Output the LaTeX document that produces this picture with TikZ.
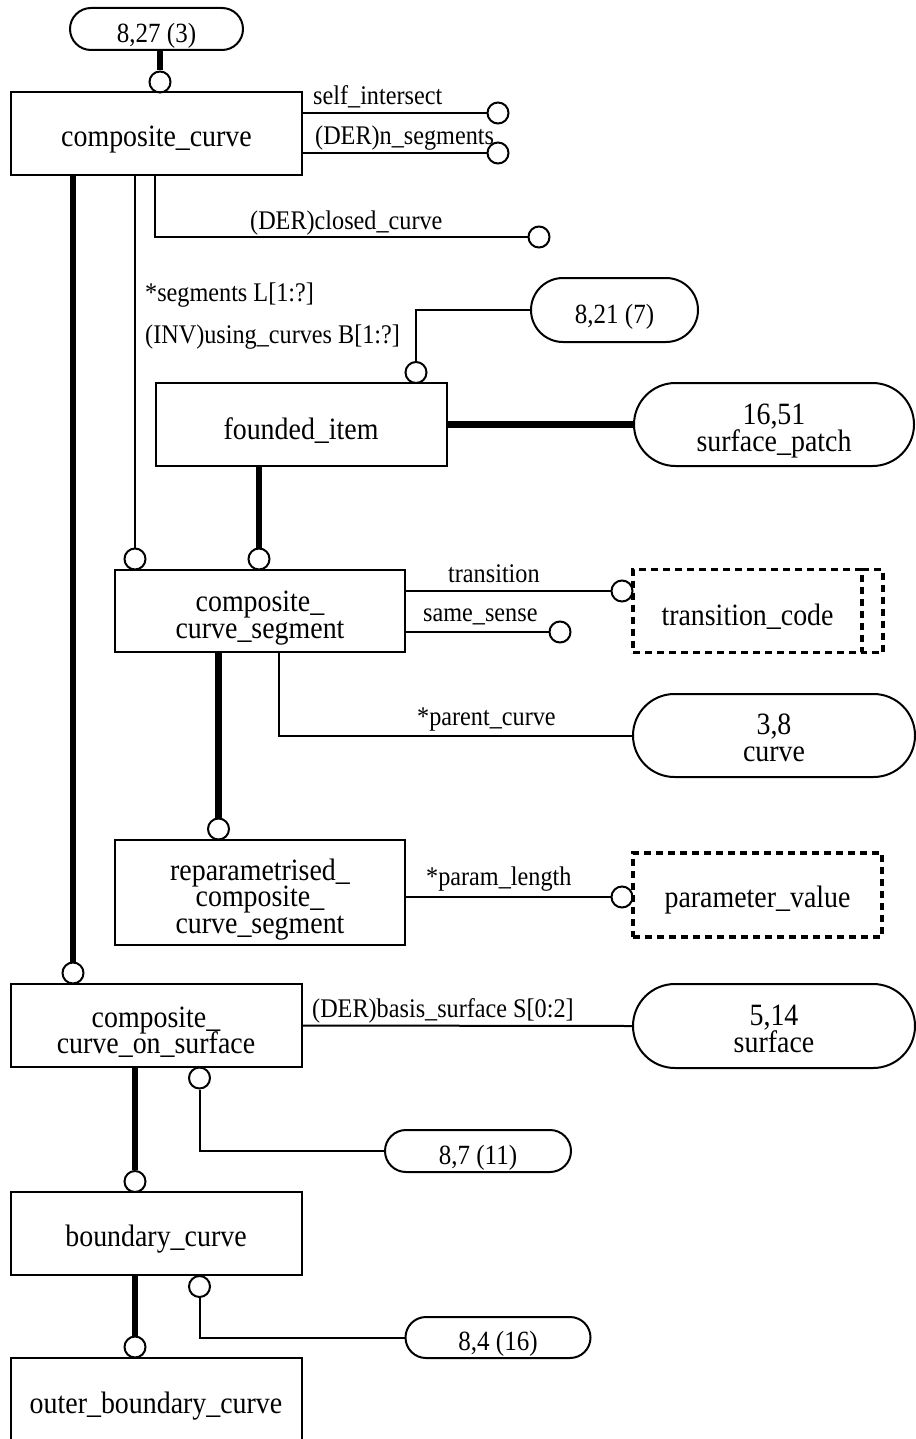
\documentclass[tikz,border=0pt]{standalone}
\usepackage{fontspec}
\setmainfont[FakeStretch=0.9]{Liberation Serif}
\usetikzlibrary{shapes.misc}
\newcommand\eglift[1]{\rule{0pt}{#1}}
\lineskiplimit=-50pt

\begin{document}
\begin{tikzpicture}[x=1pt,y=-1pt,
    entity/.style={draw,line width=2pt,minimum width=291pt,minimum height=83pt,
      inner sep=0pt,align=center,font=\fontsize{31}{26.5}\selectfont,
      execute at begin node=\eglift{33pt}},
    ref/.style={draw,line width=2pt,rounded rectangle,inner sep=0pt,align=center,
      font=\fontsize{31}{27}\selectfont},
    pageref/.style={ref,font=\fontsize{27.8}{27}\selectfont,execute at begin node=\eglift{32pt}},
    typeline/.style={line width=3.5pt,dash pattern=on 7pt off 5pt},
    deftype/.style={draw,typeline,outer sep=0pt,minimum width=249pt,minimum height=83pt,
      inner sep=0pt,font=\fontsize{31}{26}\selectfont,execute at begin node=\eglift{32pt}},
    endc/.style={circle,draw,line width=2pt,minimum size=21pt,inner sep=0pt},
    rel/.style={line width=2pt},
    sub/.style={line width=6.5pt},
    lbl/.style={anchor=base west,inner sep=0pt,font=\fontsize{26.9}{28}\selectfont}]
      \useasboundingbox (0,0) rectangle (915,1439);

      \node[pageref,minimum width=173pt,minimum height=42pt] (ref-827) at (156.5,29) {8,27 (3)};
      \node[entity] (cc)    at (156.5,133.5) {composite\_curve};
      \node[endc]   (c-cc)  at (160,82)  {};
      \node[endc]   (c-si)  at (498,113) {};
      \node[endc]   (c-ns)  at (498,153) {};
      \node[endc]   (c-cl)  at (539,237) {};
      \node[lbl]    (l-si)  at (313,105) {self\_intersect};
      \node[lbl]    (l-ns)  at (315,145) {(DER)n\_segments};
      \node[lbl]    (l-cl)  at (250,230) {(DER)closed\_curve};
      \node[lbl]    (l-seg) at (145,301) {*segments L[1:?]};
      \node[lbl]    (l-inv) at (145,343) {(INV)using\_curves B[1:?]};

      \node[pageref,minimum width=167pt,minimum height=64pt] (ref-821) at (614.5,310) {8,21 (7)};
      \node[entity] (fi)    at (301,424.5) {founded\_item};
      \node[endc]   (c-fi)  at (416,372.5) {};
      \node[ref,minimum width=280pt,minimum height=83pt] (sp) at (774,424.5) {\eglift{34pt}16,51\\surface\_patch};

      \node[endc]   (c-seg) at (135,559) {};
      \node[endc]   (c-fis) at (259,559) {};
      \node[entity,minimum width=290.5pt,minimum height=82pt] (ccs) at (260,611) {\eglift{34.3pt}composite\_\\curve\_segment};
      \node[endc]   (c-tr)  at (622,591) {};
      \node[endc]   (c-ss)  at (560,632) {};
      \node[lbl]    (l-tr)  at (448,582) {transition};
      \node[lbl]    (l-ss)  at (423,621) {same\_sense};
      \node[deftype,minimum width=229pt] (tc) at (747.5,611) {transition\_code};
      \node[lbl]    (l-pc)  at (417,725) {*parent\_curve};
      \node[ref,minimum width=282pt,minimum height=83pt] (cv) at (774,735.5) {\eglift{26pt}3,8\\curve};

      \node[endc]   (c-rp)  at (218.5,829) {};
      \node[entity,minimum width=290.5pt,minimum height=105pt] (rp) at (260,892.5) {\eglift{35pt}reparametrised\_\\composite\_\\curve\_segment};
      \node[endc]   (c-pl)  at (622,897) {};
      \node[lbl]    (l-pl)  at (426,885) {*param\_length};
      \node[deftype,minimum height=84pt] (pv) at (757.5,895) {parameter\_value};

      \node[endc]   (c-ccos) at (73,973) {};
      \node[entity] (ccos)   at (156,1025.5) {\eglift{34.3pt}composite\_\\curve\_on\_surface};
      \node[lbl]    (l-bs)   at (312,1017) {(DER)basis\_surface S[0:2]};
      \node[ref,minimum width=282pt,minimum height=84pt] (sf) at (774,1026) {\eglift{26pt}5,14\\surface};
      \node[endc]   (c-s87)  at (199.5,1078) {};
      \node[pageref,minimum width=186pt,minimum height=42pt] (ref-87) at (478,1151) {8,7 (11)};

      \node[endc]   (c-bc)   at (135,1181.5) {};
      \node[entity] (bc)     at (156,1233.5) {boundary\_curve};
      \node[endc]   (c-s84)  at (199.5,1286.5) {};
      \node[pageref,minimum width=185pt,minimum height=41pt] (ref-84) at (498,1337.5) {8,4 (16)};
      \node[endc]   (c-obc)  at (135,1347) {};
      \node[entity,minimum height=84pt] (obc) at (156,1400) {outer\_boundary\_curve};

      \draw[sub] (c-cc |- ref-827.south) -- (c-cc.north);
      \draw[rel] (cc.east |- c-si) -- (c-si.west);
      \draw[rel] (cc.east |- c-ns) -- (c-ns.west);
      \draw[rel] ([xshift=145pt]cc.south west) |- (c-cl.west);
      \draw[rel] (c-seg |- cc.south) -- (c-seg.north);
      \draw[sub] (c-ccos |- cc.south) -- (c-ccos.north);
      \draw[rel] (c-fi.north) |- (ref-821.west);
      \draw[sub] (fi.east) -- (sp.west);
      \draw[sub] (c-fis |- fi.south) -- (c-fis.north);
      \draw[rel] (ccs.east |- c-tr) -- (c-tr.west);
      \draw[rel] (ccs.east |- c-ss) -- (c-ss.west);
      \draw[typeline] (tc.north east) -| ([xshift=21pt]tc.south east) -- (tc.south east);
      \draw[rel] ([xshift=165.5pt]ccs.south west) |- (cv.west);
      \draw[sub] (c-rp |- ccs.south) -- (c-rp.north);
      \draw[rel] (rp.east |- c-pl) -- (c-pl.west);
      \draw[rel] (ccos.east) -- (sf.west);
      \draw[rel] (c-s87.south) |- (ref-87.west);
      \draw[sub] (c-bc |- ccos.south) -- (c-bc.north);
      \draw[rel] (c-s84.south) |- (ref-84.west);
      \draw[sub] (c-obc |- bc.south) -- (c-obc.north);
    \end{tikzpicture}
\end{document}
